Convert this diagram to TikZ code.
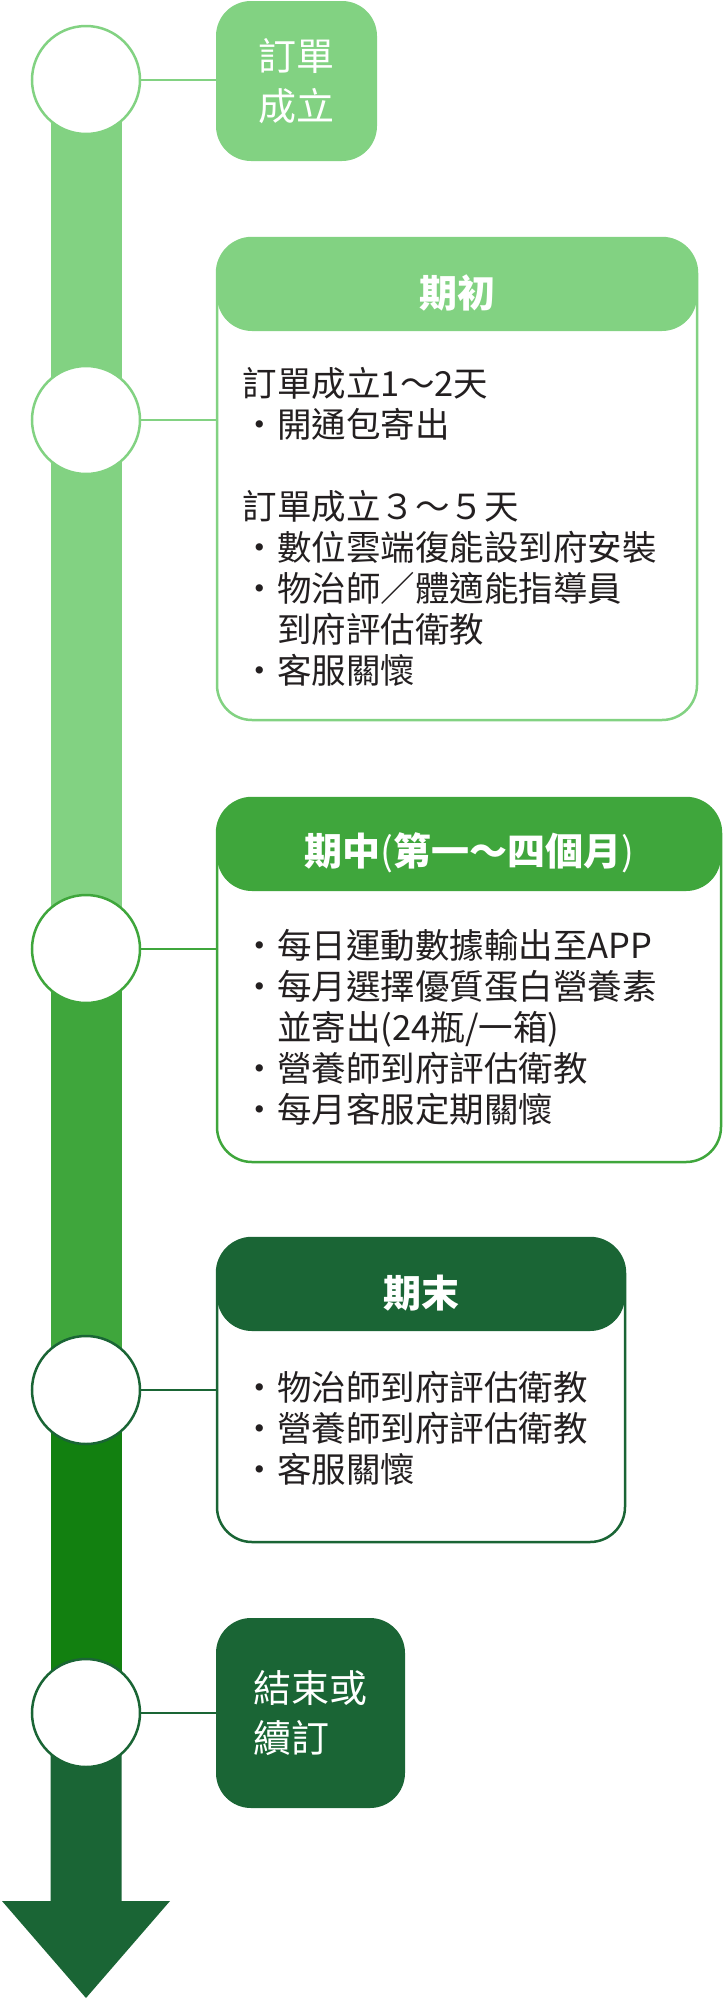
\documentclass[tikz,border=0pt]{standalone}
\usepackage{fontspec}
\setmainfont{Noto Sans CJK TC}
\usetikzlibrary{backgrounds}
\definecolor{lightg}{HTML}{82D282}
\definecolor{midg}{HTML}{3FA63C}
\definecolor{brightg}{HTML}{128010}
\definecolor{darkg}{HTML}{1A6535}
\definecolor{ink}{HTML}{231F20}

\begin{document}
\begin{tikzpicture}
	[x=1pt,y=-1pt,
	dot/.style={circle, draw=#1, fill=white, line width=2.5pt, minimum size=108pt, inner sep=0pt},
	link/.style={draw=#1, line width=2.5pt},
	tag/.style={rounded corners=35pt, fill=#1, text=white, align=left, inner sep=0pt, font=\fontsize{38pt}{50pt}\selectfont},
	panel/.style={rounded corners=35pt, draw=#1, fill=white, line width=2.5pt, inner sep=0pt,
		path picture={\fill[#1] (path picture bounding box.north west) rectangle ([yshift=-93pt]path picture bounding box.north east);}},
	head/.style={text=white, inner sep=0pt, font=\fontsize{38pt}{46pt}\selectfont\bfseries},
	body/.style={text=ink, anchor=north west, align=left, inner sep=0pt, font=\fontsize{34.5pt}{41pt}\selectfont}]
	\useasboundingbox (0,0) rectangle (725,2000);

	\node[dot=lightg] (c1) at (86,80) {};
	\node[dot=lightg] (c2) at (86,420) {};
	\node[dot=midg] (c3) at (86,949) {};
	\node[dot=darkg] (c4) at (86,1390) {};
	\node[dot=darkg] (c5) at (86,1713) {};

	\node[tag=lightg, minimum width=161pt, minimum height=160pt] (b1) at (296.5,81) {訂單\\成立};
	\node[panel=lightg, minimum width=480pt, minimum height=482pt] (b2) at (457,479) {};
	\node[panel=midg, minimum width=504pt, minimum height=364pt] (b3) at (469,980) {};
	\node[panel=darkg, minimum width=408pt, minimum height=304pt] (b4) at (421,1390) {};
	\node[tag=darkg, minimum width=189pt, minimum height=190pt] (b5) at (310.5,1713) {結束或\\續訂};

	\node[head] (t2) at ([yshift=-56pt]b2.north) {期初};
	\node[head] (t3) at ([yshift=-56pt]b3.north) {期中{\mdseries(}第一～四個月{\mdseries)}};
	\node[head] (t4) at ([yshift=-56pt]b4.north) {期末};

	\node[body] (l2) at ([xshift=27pt,yshift=-130pt]b2.north west)
		{訂單成立1～2天\\・開通包寄出\\[41pt]訂單成立３～５天\\・數位雲端復能設到府安裝\\・物治師／體適能指導員\\　到府評估衛教\\・客服關懷};
	\node[body] (l3) at ([xshift=27pt,yshift=-132pt]b3.north west)
		{・每日運動數據輸出至APP\\・每月選擇優質蛋白營養素\\　並寄出(24瓶/一箱)\\・營養師到府評估衛教\\・每月客服定期關懷};
	\node[body] (l4) at ([xshift=27pt,yshift=-134pt]b4.north west)
		{・物治師到府評估衛教\\・營養師到府評估衛教\\・客服關懷};

	\draw[link=lightg] (c1) -- (c1 -| b1.west);
	\draw[link=lightg] (c2) -- (c2 -| b2.west);
	\draw[link=midg] (c3) -- (c3 -| b3.west);
	\draw[link=darkg] (c4) -- (c4 -| b4.west);
	\draw[link=darkg] (c5) -- (c5 -| b5.west);

	% timeline bar and arrow
	\begin{scope}[on background layer]
		\fill[lightg] ([xshift=-35.5pt]c1.center) rectangle ([xshift=35.5pt]c3.center);
		\fill[midg] ([xshift=-35.5pt]c3.center) rectangle ([xshift=35.5pt]c4.center);
		\fill[brightg] ([xshift=-35.5pt]c4.center) rectangle ([xshift=35.5pt]c5.center);
		\fill[darkg] ([xshift=-35.5pt]c5.center) -- (50.5,1901) -- (2,1901) -- (86,1998)
			-- (170,1901) -- (121.5,1901) -- ([xshift=35.5pt]c5.center) -- cycle;
	\end{scope}
\end{tikzpicture}
\end{document}
